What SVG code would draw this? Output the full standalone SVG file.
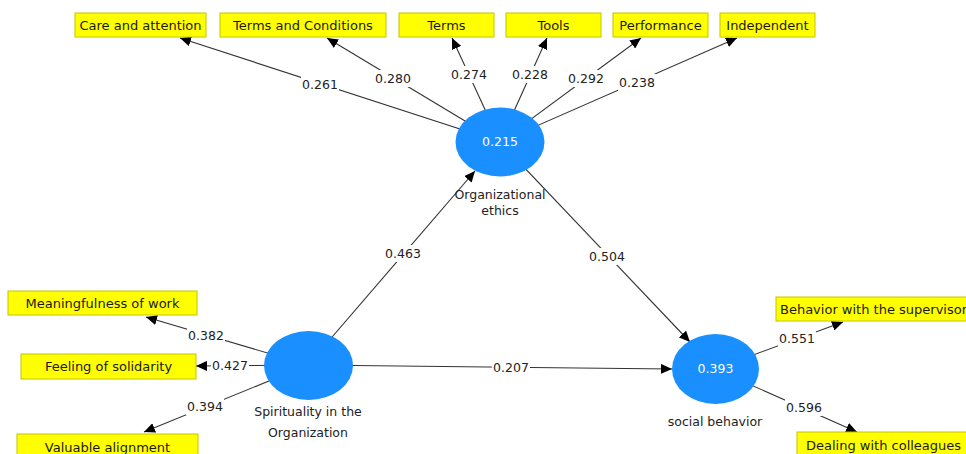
<svg xmlns="http://www.w3.org/2000/svg" width="966" height="454" viewBox="0 0 966 454">
<style>
.box{fill:#ffff00;stroke:#c4c400;stroke-width:1}
.bt{font-family:"DejaVu Sans",Verdana,sans-serif;font-size:13px;fill:#1a1a1a;text-anchor:middle}
.ln{stroke:#333;stroke-width:1.1;fill:none;marker-end:url(#ah)}
.lbg{fill:#fff}
.num{font-family:"DejaVu Sans",Verdana,sans-serif;font-size:12.5px;fill:#222;text-anchor:middle}
.lv{fill:#1a8fff}
.lvt{font-family:"DejaVu Sans",Verdana,sans-serif;font-size:12.5px;fill:#fff;text-anchor:middle}
.cap{font-family:"DejaVu Sans",Verdana,sans-serif;font-size:12.5px;fill:#222;text-anchor:middle}
</style>
<defs>
<marker id="ah" markerUnits="userSpaceOnUse" markerWidth="12" markerHeight="10" refX="11" refY="5" orient="auto">
<path d="M0,0 L11,5 L0,10 Z" fill="#000"/>
</marker>
</defs>
<rect width="966" height="454" fill="#fff"/>
<g id="connectors">
<line class="ln" x1="500" y1="142" x2="180" y2="38"/>
<line class="ln" x1="500" y1="142" x2="327" y2="38"/>
<line class="ln" x1="500" y1="142" x2="452" y2="38"/>
<line class="ln" x1="500" y1="142" x2="547" y2="38"/>
<line class="ln" x1="500" y1="142" x2="641" y2="38"/>
<line class="ln" x1="500" y1="142" x2="737" y2="38"/>
<line class="ln" x1="308" y1="365" x2="146" y2="317"/>
<line class="ln" x1="308" y1="365" x2="196" y2="366"/>
<line class="ln" x1="308" y1="365" x2="144" y2="432"/>
<line class="ln" x1="308" y1="365" x2="475" y2="171"/>
<line class="ln" x1="308" y1="365" x2="672" y2="369"/>
<line class="ln" x1="500" y1="142" x2="690" y2="342"/>
<line class="ln" x1="715" y1="369" x2="843" y2="322"/>
<line class="ln" x1="715" y1="369" x2="857" y2="432"/>
<g>
<rect class="lbg" x="301" y="76" width="38" height="17"/><text class="num" x="320" y="89">0.261</text>
<rect class="lbg" x="374" y="70" width="38" height="17"/><text class="num" x="393" y="83">0.280</text>
<rect class="lbg" x="450" y="66" width="38" height="17"/><text class="num" x="469" y="79">0.274</text>
<rect class="lbg" x="511" y="66" width="38" height="17"/><text class="num" x="530" y="79">0.228</text>
<rect class="lbg" x="567" y="70" width="38" height="17"/><text class="num" x="586" y="83">0.292</text>
<rect class="lbg" x="618" y="74" width="38" height="17"/><text class="num" x="637" y="87">0.238</text>
<rect class="lbg" x="384" y="245" width="38" height="17"/><text class="num" x="403" y="258">0.463</text>
<rect class="lbg" x="588" y="248" width="38" height="17"/><text class="num" x="607" y="261">0.504</text>
<rect class="lbg" x="492" y="359" width="38" height="17"/><text class="num" x="511" y="372">0.207</text>
<rect class="lbg" x="187" y="327" width="38" height="17"/><text class="num" x="206" y="340">0.382</text>
<rect class="lbg" x="211" y="357" width="38" height="17"/><text class="num" x="230" y="370">0.427</text>
<rect class="lbg" x="186" y="398" width="38" height="17"/><text class="num" x="205" y="411">0.394</text>
<rect class="lbg" x="778" y="330" width="38" height="17"/><text class="num" x="797" y="343">0.551</text>
<rect class="lbg" x="785" y="399" width="38" height="17"/><text class="num" x="804" y="412">0.596</text>
</g>
</g>
<g id="care"><rect class="box" x="75" y="13" width="131" height="24"/><text class="bt" x="140.5" y="30">Care and attention</text></g>
<g id="termsconditions"><rect class="box" x="220" y="13" width="166" height="24"/><text class="bt" x="303" y="30">Terms and Conditions</text></g>
<g id="terms"><rect class="box" x="399" y="13" width="95" height="24"/><text class="bt" x="446.5" y="30">Terms</text></g>
<g id="tools"><rect class="box" x="506" y="13" width="95" height="24"/><text class="bt" x="553.5" y="30">Tools</text></g>
<g id="performance"><rect class="box" x="613" y="13" width="95" height="24"/><text class="bt" x="660.5" y="30">Performance</text></g>
<g id="independent"><rect class="box" x="720" y="13" width="95" height="24"/><text class="bt" x="767.5" y="30">Independent</text></g>
<g id="meaningfulness"><rect class="box" x="8" y="291" width="189" height="24"/><text class="bt" x="102.5" y="308">Meaningfulness of work</text></g>
<g id="solidarity"><rect class="box" x="21" y="354" width="175" height="25"/><text class="bt" x="108.5" y="371">Feeling of solidarity</text></g>
<g id="alignment"><rect class="box" x="17" y="434" width="181" height="26"/><text class="bt" x="107.5" y="452">Valuable alignment</text></g>
<g id="supervisor"><rect class="box" x="776" y="297" width="196" height="24"/><text class="bt" x="780" y="314" style="text-anchor:start">Behavior with the supervisor</text></g>
<g id="colleagues"><rect class="box" x="797" y="432" width="175" height="26"/><text class="bt" x="806" y="450" style="text-anchor:start">Dealing with colleagues</text></g>
<g id="ethics"><ellipse class="lv" cx="500" cy="142" rx="44.5" ry="34.5"/><text class="lvt" x="500" y="146">0.215</text><text class="cap" x="500" y="199">Organizational</text><text class="cap" x="500" y="215">ethics</text></g>
<g id="spirituality"><ellipse class="lv" cx="308.5" cy="365.5" rx="44.5" ry="34.5"/><text class="cap" x="308" y="416">Spirituality in the</text><text class="cap" x="308" y="437">Organization</text></g>
<g id="social"><ellipse class="lv" cx="715.5" cy="369" rx="43.5" ry="35"/><text class="lvt" x="715.5" y="373">0.393</text><text class="cap" x="715" y="426">social behavior</text></g>
</svg>
